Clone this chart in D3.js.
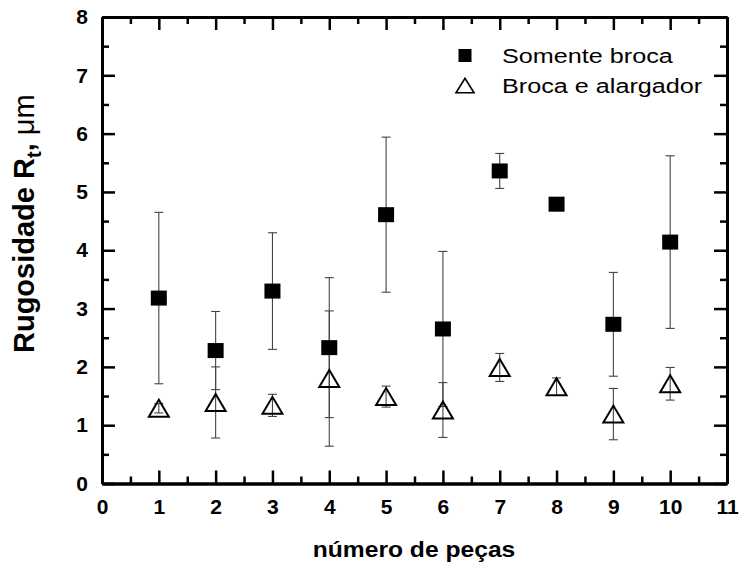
<!DOCTYPE html>
<html>
<head>
<meta charset="utf-8">
<script src="https://cdn.jsdelivr.net/npm/d3@7"></script>
<style>
  body { margin: 0; background: #fff; }
  text { font-family: Arial, "Liberation Sans", sans-serif; }
</style>
</head>
<body>
<script>
// values
var pecas = [1, 2, 3, 4, 5, 6, 7, 8, 9, 10];
var somenteBroca = [3.18, 2.28, 3.30, 2.33, 4.61, 2.65, 5.36, 4.79, 2.73, 4.14];
var somenteBrocaErr = [1.47, 0.67, 1.00, 1.20, 1.33, 1.33, 0.30, 0.08, 0.89, 1.48];
var brocaAlarg = [1.29, 1.39, 1.34, 1.80, 1.49, 1.26, 1.99, 1.66, 1.19, 1.71];
var brocaAlargErr = [0.08, 0.61, 0.19, 1.16, 0.18, 0.47, 0.24, 0.15, 0.44, 0.28];
var xTicks = [0, 1, 2, 3, 4, 5, 6, 7, 8, 9, 10, 11];
var yTicks = [0, 1, 2, 3, 4, 5, 6, 7, 8];
var legendNames = ["Somente broca", "Broca e alargador"];

var width = 739, height = 565;
var svg = d3.select("body").append("svg")
    .attr("width", width)
    .attr("height", height);

var x = d3.scaleLinear().domain([0, 11]).range([102, 727]);
var y = d3.scaleLinear().domain([0, 8]).range([483.5, 17]);

var xMinor = d3.range(0.5, 11, 1);
var yMinor = d3.range(0.5, 8, 1);

function styleAxis(g) {
  g.select(".domain").attr("stroke-width", 3).attr("stroke", "#000");
  g.selectAll(".tick line").attr("stroke-width", 2.5).attr("stroke", "#000");
  g.selectAll("text").attr("font-size", 21).attr("font-weight", "bold").attr("fill", "#000");
}

// bottom
svg.append("g").attr("transform", "translate(0," + y(0) + ")")
    .call(d3.axisBottom(x).tickValues(xTicks).tickSizeInner(-13).tickSizeOuter(0).tickPadding(16).tickFormat(d3.format("d")))
    .call(styleAxis);
svg.append("g").attr("transform", "translate(0," + y(0) + ")")
    .call(d3.axisBottom(x).tickValues(xMinor).tickSizeInner(-7).tickSizeOuter(0).tickFormat(""))
    .call(styleAxis);
// top
svg.append("g").attr("transform", "translate(0," + y(8) + ")")
    .call(d3.axisTop(x).tickValues(xTicks).tickSizeInner(-13).tickSizeOuter(0).tickFormat(""))
    .call(styleAxis);
svg.append("g").attr("transform", "translate(0," + y(8) + ")")
    .call(d3.axisTop(x).tickValues(xMinor).tickSizeInner(-7).tickSizeOuter(0).tickFormat(""))
    .call(styleAxis);
// left
svg.append("g").attr("transform", "translate(" + x(0) + ",0)")
    .call(d3.axisLeft(y).tickValues(yTicks).tickSizeInner(-13).tickSizeOuter(0).tickPadding(14).tickFormat(d3.format("d")))
    .call(styleAxis);
svg.append("g").attr("transform", "translate(" + x(0) + ",0)")
    .call(d3.axisLeft(y).tickValues(yMinor).tickSizeInner(-7).tickSizeOuter(0).tickFormat(""))
    .call(styleAxis);
// right
svg.append("g").attr("transform", "translate(" + x(11) + ",0)")
    .call(d3.axisRight(y).tickValues(yTicks).tickSizeInner(-13).tickSizeOuter(0).tickFormat(""))
    .call(styleAxis);
svg.append("g").attr("transform", "translate(" + x(11) + ",0)")
    .call(d3.axisRight(y).tickValues(yMinor).tickSizeInner(-7).tickSizeOuter(0).tickFormat(""))
    .call(styleAxis);

// error bars
function errorBars(vals, errs) {
  var g = svg.append("g").attr("stroke", "#444").attr("stroke-width", 1.1);
  pecas.forEach(function(p, i) {
    var cx = x(p), top = y(vals[i] + errs[i]), bot = y(vals[i] - errs[i]);
    g.append("line").attr("x1", cx).attr("x2", cx).attr("y1", top).attr("y2", bot);
    g.append("line").attr("x1", cx - 4.5).attr("x2", cx + 4.5).attr("y1", top).attr("y2", top);
    g.append("line").attr("x1", cx - 4.5).attr("x2", cx + 4.5).attr("y1", bot).attr("y2", bot);
  });
}
errorBars(somenteBroca, somenteBrocaErr);
errorBars(brocaAlarg, brocaAlargErr);

function triPath(cx, cy, w, h) {
  return "M" + (cx - w / 2) + "," + (cy + h / 2) + "L" + cx + "," + (cy - h / 2) + "L" + (cx + w / 2) + "," + (cy + h / 2) + "Z";
}

svg.selectAll(".sq").data(somenteBroca).enter().append("rect")
    .attr("x", function(d, i) { return x(pecas[i]) - 8; })
    .attr("y", function(d) { return y(d) - 7.5; })
    .attr("width", 16).attr("height", 15)
    .attr("fill", "#000");

svg.selectAll(".tri").data(brocaAlarg).enter().append("path")
    .attr("d", function(d, i) { return triPath(x(pecas[i]), y(d), 20, 17); })
    .attr("fill", "none").attr("stroke", "#000").attr("stroke-width", 2);

// legend
svg.append("rect").attr("x", 458.5).attr("y", 49).attr("width", 13).attr("height", 13).attr("fill", "#000");
svg.append("path").attr("d", triPath(465, 85.5, 18, 14.5))
    .attr("fill", "none").attr("stroke", "#000").attr("stroke-width", 1.6);
svg.selectAll(".leg").data(legendNames).enter().append("text")
    .attr("transform", function(d, i) { return "translate(502," + (63 + i * 30) + ") scale(1.2,1)"; })
    .attr("font-size", 21)
    .text(function(d) { return d; });

// axis titles
svg.append("text")
    .attr("transform", "translate(414,557) scale(1.12,1)")
    .attr("text-anchor", "middle")
    .attr("font-size", 22).attr("font-weight", "bold")
    .text("número de peças");

var yt = svg.append("text")
    .attr("transform", "translate(34,353) rotate(-90)")
    .attr("font-size", 29).attr("font-weight", "bold");
yt.append("tspan").text("Rugosidade R");
yt.append("tspan").attr("font-size", 20).attr("dy", 7).text("t");
yt.append("tspan").attr("dy", -7).text(", ");
yt.append("tspan").attr("font-weight", "normal").text("μm");
</script>
</body>
</html>
